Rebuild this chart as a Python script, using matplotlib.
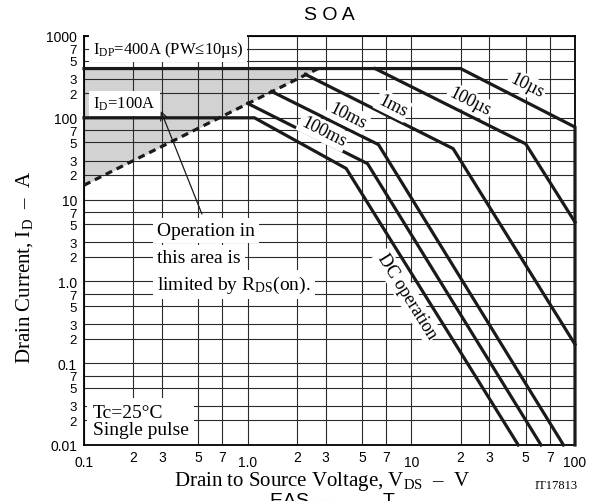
import matplotlib
matplotlib.use("Agg")
import matplotlib.pyplot as plt
from matplotlib.ticker import FixedLocator, FixedFormatter

plt.rcParams["mathtext.fontset"] = "custom"
plt.rcParams["mathtext.rm"] = "Liberation Serif"
plt.rcParams["mathtext.it"] = "Liberation Serif:italic"

SERIF = ["Liberation Serif", "DejaVu Serif"]
SANS = ["Liberation Sans", "DejaVu Sans"]

# R_DS(on) limit (dashed)
rds_v = [0.1, 2.7]
rds_i = [15, 400]

# pulse curves, V_DS in V, I_D in A
us10_v = [0.1, 20, 100, 100]
us10_i = [400, 400, 77, 0.01]
us100_v = [6.0, 50, 100]
us100_i = [400, 48, 5.3]
ms1_v = [2.25, 18, 100]
ms1_i = [340, 42, 0.17]
ms10_v = [1.4, 6.3, 85]
ms10_i = [210, 47, 0.01]
ms100_v = [1.0, 5.4, 62]
ms100_i = [150, 27.5, 0.01]
dc_v = [0.1, 1.1, 4.0, 45]
dc_i = [100, 100, 24, 0.01]

curve_labels = ["10\u00b5s", "100\u00b5s", "1ms", "10ms", "100ms"]
label_v = [50.8, 22.8, 7.7, 4.1, 2.9]
label_i = [248, 158, 141, 106, 68]

x_major = [0.1, 1, 10, 100]
x_major_text = ["0.1", "1.0", "10", "100"]
y_major = [0.01, 0.1, 1, 10, 100, 1000]
y_major_text = ["0.01", "0.1", "1.0", "10", "100", "1000"]
sub_steps = [2, 3, 5, 7]


def _minor(majors):
    pos, txt = [], []
    for m in majors[:-1]:
        for s in sub_steps:
            pos.append(m * s)
            txt.append(str(s))
    return pos, txt


def _sub(base, sub):
    return "$\\mathrm{%s}_{\\mathrm{%s}}$" % (base, sub)


fig = plt.figure(figsize=(6.04, 5.02), dpi=100)
ax = fig.add_axes([84 / 604, 1 - 446 / 502, 491 / 604, 409 / 502])
ax.set_xscale("log")
ax.set_yscale("log")
ax.set_xlim(0.1, 100)
ax.set_ylim(0.01, 1000)

x_minor, x_minor_text = _minor(x_major)
y_minor, y_minor_text = _minor(y_major)
ax.xaxis.set_major_locator(FixedLocator(x_major))
ax.xaxis.set_major_formatter(FixedFormatter(x_major_text))
ax.xaxis.set_minor_locator(FixedLocator(x_minor))
ax.xaxis.set_minor_formatter(FixedFormatter(x_minor_text))
ax.yaxis.set_major_locator(FixedLocator(y_major))
ax.yaxis.set_major_formatter(FixedFormatter(y_major_text))
ax.yaxis.set_minor_locator(FixedLocator(y_minor))
ax.yaxis.set_minor_formatter(FixedFormatter(y_minor_text))
ax.tick_params(which="both", length=0, labelsize=10)
ax.tick_params(axis="y", which="minor", labelsize=9.5)
ax.tick_params(axis="x", which="major", pad=7)
ax.tick_params(axis="x", which="minor", pad=3.5)
ax.tick_params(axis="y", which="both", pad=5)
for lab in ax.get_xticklabels(which="both") + ax.get_yticklabels(which="both"):
    lab.set_family(SANS)
ax.grid(True, which="both", color="#2a2a2a", lw=0.8)
ax.set_axisbelow(True)
for side in ax.spines.values():
    side.set_linewidth(1.3)

# shaded R_DS(on) region, under the grid
ax.fill_between(rds_v, rds_i, [us10_i[0]] * 2, color="#d2d2d2", lw=0, zorder=0.3)
ax.plot(rds_v, rds_i, color="#1a1a1a", lw=2.3, ls=(0, (2.2, 1.6)), zorder=3)

for v, i in [(us10_v, us10_i), (us100_v, us100_i), (ms1_v, ms1_i),
             (ms10_v, ms10_i), (ms100_v, ms100_i), (dc_v, dc_i)]:
    ax.plot(v, i, color="#1a1a1a", lw=2.3, solid_joinstyle="miter", zorder=3,
            clip_on=False)

white = dict(facecolor="white", edgecolor="none", pad=1.5)
for txt, v, i in zip(curve_labels, label_v, label_i):
    ax.text(v, i, txt, family=SERIF, fontsize=13, rotation=-26.5,
            rotation_mode="anchor", ha="center", va="center", bbox=white, zorder=4)
ax.text(9.4, 0.67, "DC operation", family=SERIF, fontsize=13, rotation=-58,
        rotation_mode="anchor", ha="center", va="center", bbox=white, zorder=4)

ax.text(0.113, 700, _sub("I", "DP") + "=400A (PW\u226410\u00b5s)", family=SERIF,
        fontsize=12, ha="left", va="center",
        bbox=dict(facecolor="white", edgecolor="none", pad=2.5), zorder=4)
ax.text(0.113, 150, _sub("I", "D") + "=100A", family=SERIF, fontsize=12,
        ha="left", va="center",
        bbox=dict(facecolor="white", edgecolor="none", pad=3), zorder=4)

ax.annotate("", xy=(0.291, 130), xytext=(0.533, 6.2),
            arrowprops=dict(arrowstyle="->", color="#1a1a1a", lw=0.9,
                            mutation_scale=14), zorder=4)
for txt, i in [("Operation in", 3.72), ("this area is", 1.74),
               ("limited by " + _sub("R", "DS") + "(on).", 0.81)]:
    ax.text(0.279, i, txt, family=SERIF, fontsize=14, ha="left", va="baseline",
            bbox=dict(facecolor="white", edgecolor="none", pad=3), zorder=4)

ax.text(0.113, 0.0135, "Tc=25\u00b0C\nSingle pulse", family=SERIF, fontsize=14,
        ha="left", va="baseline", linespacing=1.05,
        bbox=dict(facecolor="white", edgecolor="none", pad=4), zorder=4)

fig.text(329.5 / 604, 1 - 15 / 502, "S O A", family=SANS, fontsize=14,
         ha="center", va="center")
fig.text(25 / 604, 1 - 267 / 502, "Drain Current, " + _sub("I", "D") + "  \u2013  A",
         family=SERIF, fontsize=15, rotation=90, ha="center", va="center")
fig.text(322 / 604, 1 - 482 / 502,
         "Drain to Source Voltage, " + _sub("V", "DS") + "  \u2013  V",
         family=SERIF, fontsize=15, ha="center", va="center")
fig.text(556 / 604, 1 - 486 / 502, "IT17813", family=SERIF, fontsize=9,
         ha="center", va="center")
fig.text(270 / 604, 1 - 493 / 502, "EAS \u2014", family=SANS, fontsize=14,
         ha="left", va="top")
fig.text(383 / 604, 1 - 493 / 502, "T", family=SANS, fontsize=14,
         ha="left", va="top")

fig.savefig("out.png", dpi=100)
